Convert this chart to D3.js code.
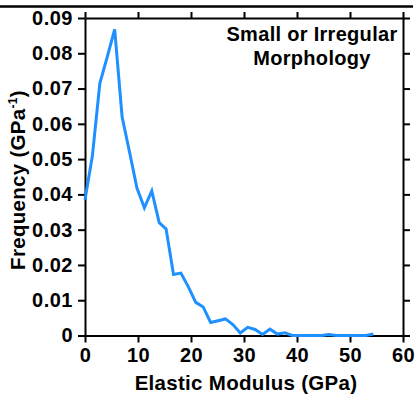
<!DOCTYPE html>
<html>
<head>
<meta charset="utf-8">
<script src="https://cdn.jsdelivr.net/npm/d3@7"></script>
<style>
  body { margin: 0; background: #fff; }
  text { font-family: "Liberation Sans", Arial, sans-serif; font-weight: bold; }
</style>
</head>
<body>
<div id="container"></div>
<script>
/* DATA */
const modulus = [0, 1.4, 2.8, 4.2, 5.6, 7.0, 8.4, 9.8, 11.2, 12.6, 14.0, 15.3, 16.7, 18.1, 19.5,
  20.9, 22.3, 23.7, 25.1, 26.5, 27.9, 29.3, 30.7, 32.1, 33.5, 34.9, 36.3, 37.7, 39.1,
  40.5, 41.9, 43.3, 44.7, 46.0, 47.4, 48.8, 50.2, 51.6, 53.0, 54.4]
const frequency = [0.0385, 0.051, 0.0715, 0.079, 0.0868, 0.062, 0.052, 0.0418, 0.0362, 0.041,
  0.032, 0.0302, 0.0173, 0.0177, 0.0138, 0.0094, 0.0081, 0.0037, 0.0042, 0.0047, 0.0031,
  0.0007, 0.0023, 0.0017, 0.0003, 0.0018, 0.0004, 0.0008, 0, 0, 0, 0, 0, 0.0003, 0, 0, 0, 0, 0, 0.0004]
const xTicks = [0, 10, 20, 30, 40, 50, 60]
const yTicks = [0, 0.01, 0.02, 0.03, 0.04, 0.05, 0.06, 0.07, 0.08, 0.09]
const annotation = ["Small or Irregular", "Morphology"]

/* CONSTANTS */
const width = 415,
  height = 396,
  margin = { top: 18, bottom: 60.5, left: 85, right: 12 }

const data = modulus.map((m, i) => ({ x: m, y: frequency[i] }))

// SCALES
const xScale = d3.scaleLinear()
  .domain([0, 60])
  .range([margin.left, width - margin.right])

const yScale = d3.scaleLinear()
  .domain([0, 0.09])
  .range([height - margin.bottom, margin.top])

// SVG
const svg = d3.select("#container")
  .append("svg")
  .attr("width", width)
  .attr("height", height)

// figure border line at top
svg.append("line")
  .attr("x1", 0).attr("x2", 413)
  .attr("y1", 6.5).attr("y2", 6.5)
  .attr("stroke", "black")
  .attr("stroke-width", 2.5)

// AXES
const fmtY = d => d === 0 ? "0" : d3.format(".2f")(d)

svg.append("g")
  .attr("transform", `translate(0, ${height - margin.bottom})`)
  .call(d3.axisBottom(xScale).tickValues(xTicks).tickSize(7).tickSizeOuter(0).tickPadding(5))

svg.append("g")
  .attr("transform", `translate(0, ${margin.top})`)
  .call(d3.axisTop(xScale).tickValues(xTicks).tickSize(6).tickSizeOuter(0).tickFormat(""))

svg.append("g")
  .attr("transform", `translate(${margin.left}, 0)`)
  .call(d3.axisLeft(yScale).tickValues(yTicks).tickSize(7).tickSizeOuter(0).tickPadding(5).tickFormat(fmtY))

svg.append("g")
  .attr("transform", `translate(${width - margin.right}, 0)`)
  .call(d3.axisRight(yScale).tickValues(yTicks).tickSize(7).tickSizeOuter(0).tickFormat(""))

svg.selectAll(".domain, .tick line")
  .attr("stroke", "black")
  .attr("stroke-width", 2)

svg.selectAll(".tick text")
  .attr("fill", "black")
  .style("font-size", "20px")
  .style("letter-spacing", "0.5px")
  .style("font-family", "'Liberation Sans', Arial, sans-serif")
  .style("font-weight", "bold")

// AXIS TITLES
svg.append("text")
  .attr("x", 246)
  .attr("y", 390)
  .style("text-anchor", "middle")
  .style("font-size", "20.5px")
  .style("letter-spacing", "0.3px")
  .text("Elastic Modulus (GPa)")

const yTitle = svg.append("text")
  .attr("transform", "rotate(-90)")
  .attr("x", -180)
  .attr("y", 25)
  .style("text-anchor", "middle")
  .style("font-size", "20.5px")
  .style("letter-spacing", "0.3px")
yTitle.append("tspan").text("Frequency (GPa")
yTitle.append("tspan").attr("dy", -8).style("font-size", "12px").text("-1")
yTitle.append("tspan").attr("dy", 8).text(")")

// ANNOTATION
svg.selectAll(".note")
  .data(annotation)
  .join("text")
  .attr("class", "note")
  .attr("x", 312)
  .attr("y", (d, i) => 41 + i * 24)
  .style("text-anchor", "middle")
  .style("font-size", "20px")
  .style("letter-spacing", "0.3px")
  .text(d => d)

// LINE
const lineGen = d3.line()
  .x(d => xScale(d.x))
  .y(d => yScale(d.y))

svg.append("path")
  .datum(data)
  .attr("fill", "none")
  .attr("stroke", "#1e90ff")
  .attr("stroke-width", 3)
  .attr("d", lineGen)
</script>
</body>
</html>
